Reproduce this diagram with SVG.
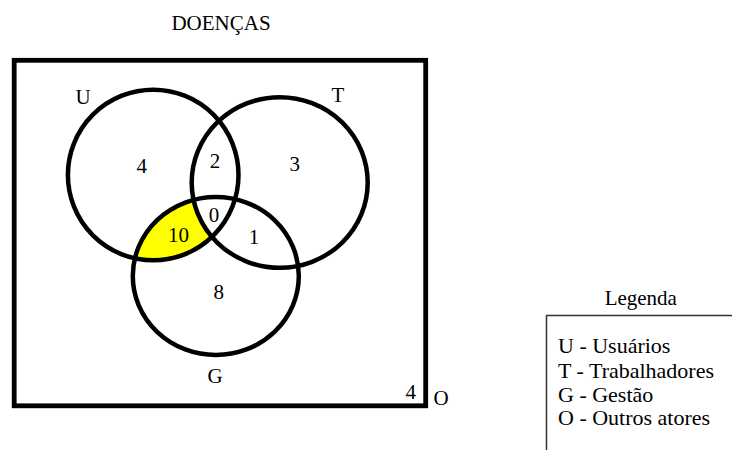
<svg xmlns="http://www.w3.org/2000/svg" width="732" height="450" viewBox="0 0 732 450">
  <style>
    text { font-family: "Liberation Serif", "Times New Roman", serif; font-size: 21px; fill: #000; }
    .c { text-anchor: middle; }
    .lg { font-size: 22px; }
    .ring { fill: none; stroke: #000; stroke-width: 4.5; }
  </style>
  <defs>
    <clipPath id="clipU">
      <circle cx="153.2" cy="175" r="85.3"/>
    </clipPath>
  </defs>
  <rect x="0" y="0" width="732" height="450" fill="#fff"/>
  <text class="c" x="221" y="30">DOENÇAS</text>

  <g id="O">
    <rect x="14.2" y="60.3" width="411.5" height="345.5" fill="none" stroke="#000" stroke-width="4.8"/>
    <text class="c" x="410.8" y="399">4</text>
    <text class="c" x="441" y="405">O</text>
  </g>

  <g id="regions">
    <ellipse cx="215.8" cy="276" rx="83" ry="79" fill="#ffff00" clip-path="url(#clipU)"/>
    <ellipse cx="279.7" cy="182.5" rx="88" ry="85.3" fill="#fff"/>
  </g>

  <g id="U">
    <circle class="ring" cx="153.2" cy="175" r="85.3"/>
    <text class="c" x="83" y="104">U</text>
  </g>
  <g id="T">
    <ellipse class="ring" cx="279.7" cy="182.5" rx="88" ry="85.3"/>
    <text class="c" x="338" y="101.7">T</text>
  </g>
  <g id="G">
    <ellipse class="ring" cx="215.8" cy="276" rx="83" ry="79"/>
    <text class="c" x="215" y="382.7">G</text>
  </g>

  <g id="counts">
    <text class="c" x="141.7" y="173">4</text>
    <text class="c" x="215" y="168">2</text>
    <text class="c" x="294.7" y="171">3</text>
    <text class="c" x="214" y="221.7">0</text>
    <text class="c" x="178.5" y="241.7">10</text>
    <text class="c" x="254" y="244">1</text>
    <text class="c" x="218.7" y="299">8</text>
  </g>

  <g id="connectors"></g>

  <g id="legend">
    <text class="c" x="640.8" y="305">Legenda</text>
    <path d="M546.5 450 V315.5 H732" fill="none" stroke="#333" stroke-width="1.5"/>
    <text class="lg" x="558" y="353.3">U - Usuários</text>
    <text class="lg" x="558" y="377.7">T - Trabalhadores</text>
    <text class="lg" x="558" y="401.7">G - Gestão</text>
    <text class="lg" x="558" y="425">O - Outros atores</text>
  </g>
</svg>
